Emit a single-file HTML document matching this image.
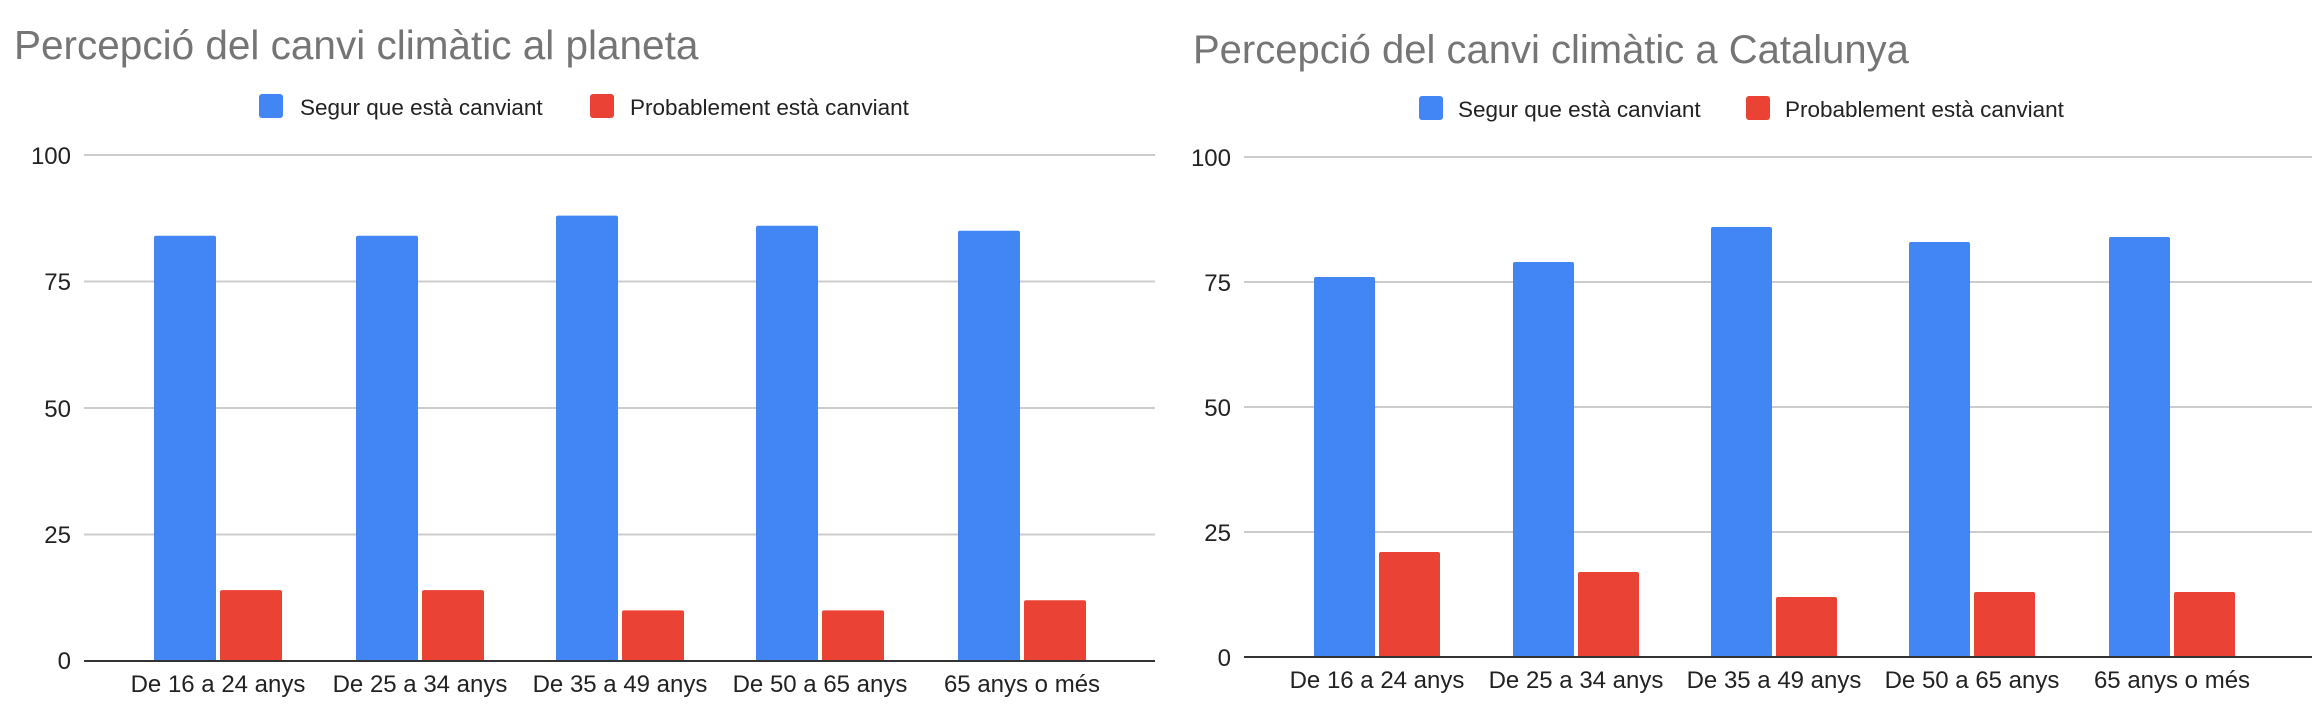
<!DOCTYPE html>
<html><head><meta charset="utf-8"><style>html,body{margin:0;padding:0;background:#fff;width:2312px;height:710px;overflow:hidden}svg{display:block}</style></head>
<body>
<svg width="2312" height="710" xmlns="http://www.w3.org/2000/svg" font-family="Liberation Sans, Arial, sans-serif">
<rect width="2312" height="710" fill="#fff"/>
<!-- LEFT CHART -->
<g>
<text x="14" y="59" font-size="40.5" fill="#757575">Percepció del canvi climàtic al planeta</text>
<rect x="259" y="94" width="24" height="24" rx="3" fill="#4285f4"/>
<text x="300" y="115" font-size="22.5" fill="#222">Segur que està canviant</text>
<rect x="590" y="94" width="24" height="24" rx="3" fill="#ea4335"/>
<text x="630" y="115" font-size="22.5" fill="#222">Probablement està canviant</text>
<g stroke="#cccccc" stroke-width="2">
<line x1="84" y1="155" x2="1155" y2="155"/><line x1="84" y1="281.5" x2="1155" y2="281.5"/><line x1="84" y1="408" x2="1155" y2="408"/><line x1="84" y1="534.5" x2="1155" y2="534.5"/>
</g>
<g font-size="24" fill="#222" text-anchor="end">
<text x="71" y="164">100</text><text x="71" y="290">75</text><text x="71" y="417">50</text><text x="71" y="543">25</text><text x="71" y="669">0</text>
</g>
<g fill="#4285f4">
<rect x="154" y="235.8" width="62" height="425.2" rx="2"/>
<rect x="356" y="235.8" width="62" height="425.2" rx="2"/>
<rect x="556" y="215.6" width="62" height="445.4" rx="2"/>
<rect x="756" y="225.7" width="62" height="435.3" rx="2"/>
<rect x="958" y="230.8" width="62" height="430.2" rx="2"/>
</g>
<g fill="#ea4335">
<rect x="220" y="590.1" width="62" height="70.9" rx="2"/>
<rect x="422" y="590.1" width="62" height="70.9" rx="2"/>
<rect x="622" y="610.4" width="62" height="50.6" rx="2"/>
<rect x="822" y="610.4" width="62" height="50.6" rx="2"/>
<rect x="1024" y="600.3" width="62" height="60.7" rx="2"/>
</g>
<line x1="84" y1="661" x2="1155" y2="661" stroke="#333" stroke-width="2"/>
<g font-size="24" fill="#222" text-anchor="middle">
<text x="218" y="692">De 16 a 24 anys</text><text x="420" y="692">De 25 a 34 anys</text><text x="620" y="692">De 35 a 49 anys</text><text x="820" y="692">De 50 a 65 anys</text><text x="1022" y="692">65 anys o més</text>
</g>
</g>
<!-- RIGHT CHART -->
<g>
<text x="1193" y="63" font-size="40" fill="#757575">Percepció del canvi climàtic a Catalunya</text>
<rect x="1419" y="96" width="24" height="24" rx="3" fill="#4285f4"/>
<text x="1458" y="117" font-size="22.5" fill="#222">Segur que està canviant</text>
<rect x="1746" y="96" width="24" height="24" rx="3" fill="#ea4335"/>
<text x="1785" y="117" font-size="22.5" fill="#222">Probablement està canviant</text>
<g stroke="#cccccc" stroke-width="2">
<line x1="1244" y1="157" x2="2312" y2="157"/><line x1="1244" y1="282" x2="2312" y2="282"/><line x1="1244" y1="407" x2="2312" y2="407"/><line x1="1244" y1="532" x2="2312" y2="532"/>
</g>
<g font-size="24" fill="#222" text-anchor="end">
<text x="1231" y="166">100</text><text x="1231" y="291">75</text><text x="1231" y="416">50</text><text x="1231" y="541">25</text><text x="1231" y="666">0</text>
</g>
<g fill="#4285f4">
<rect x="1314" y="277" width="61" height="380" rx="2"/>
<rect x="1513" y="262" width="61" height="395" rx="2"/>
<rect x="1711" y="227" width="61" height="430" rx="2"/>
<rect x="1909" y="242" width="61" height="415" rx="2"/>
<rect x="2109" y="237" width="61" height="420" rx="2"/>
</g>
<g fill="#ea4335">
<rect x="1379" y="552" width="61" height="105" rx="2"/>
<rect x="1578" y="572" width="61" height="85" rx="2"/>
<rect x="1776" y="597" width="61" height="60" rx="2"/>
<rect x="1974" y="592" width="61" height="65" rx="2"/>
<rect x="2174" y="592" width="61" height="65" rx="2"/>
</g>
<line x1="1244" y1="657" x2="2312" y2="657" stroke="#333" stroke-width="2"/>
<g font-size="24" fill="#222" text-anchor="middle">
<text x="1377" y="688">De 16 a 24 anys</text><text x="1576" y="688">De 25 a 34 anys</text><text x="1774" y="688">De 35 a 49 anys</text><text x="1972" y="688">De 50 a 65 anys</text><text x="2172" y="688">65 anys o més</text>
</g>
</g>
</svg>
</body></html>
